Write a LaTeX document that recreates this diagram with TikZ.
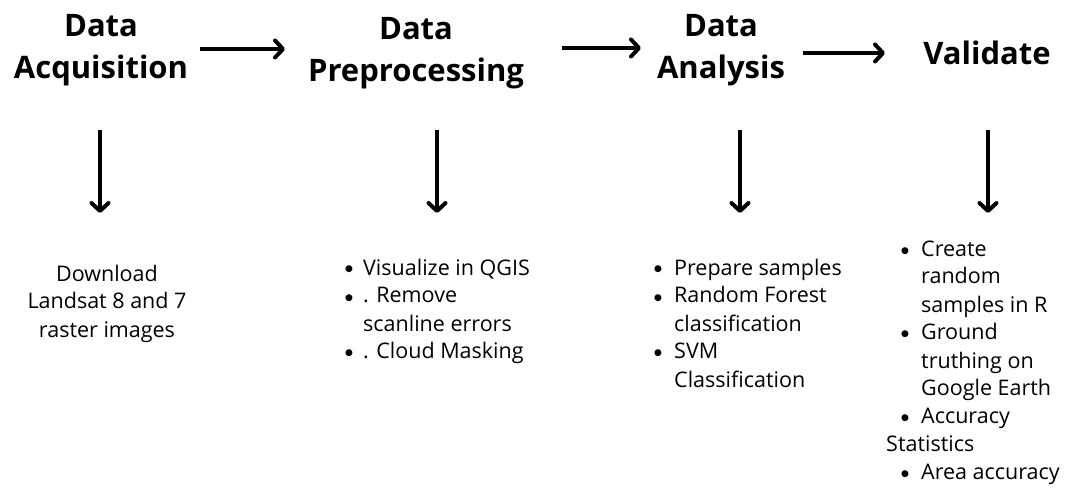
\documentclass[tikz,border=0pt]{standalone}
\usepackage{fontspec}
\setmainfont{Open Sans}
\newfontfamily\symfont{DejaVu Sans}
\usetikzlibrary{arrows.meta}
\newcommand\bitem[1]{\makebox[#1][l]{\raisebox{3pt}{\symfont\fontsize{9}{9}\selectfont ●}}}
\begin{document}
\begin{tikzpicture}[x=1pt,y=-1pt,
  head/.style={font=\bfseries\fontsize{31}{42}\selectfont, inner sep=0pt, anchor=base},
  bodyc/.style={font=\fontsize{21.5}{28}\selectfont, inner sep=0pt, anchor=base},
  bodyl/.style={font=\fontsize{21.5}{28}\selectfont, inner sep=0pt, anchor=base west},
  flow/.style={line width=4pt, -{Straight Barb[round,length=8pt,width=17pt]}}]
\useasboundingbox (0,0) rectangle (1072,500);

% headings
\node[head] (h1) at (101,37) {\begin{tabular}[t]{@{}c@{}}Data\\Acquisition\end{tabular}};
\node[head] (h2) at (416,40) {\begin{tabular}[t]{@{}c@{}}Data\\Preprocessing\end{tabular}};
\node[head] (h3) at (721,37) {\begin{tabular}[t]{@{}c@{}}Data\\Analysis\end{tabular}};
\node[head] (h4) at (987,65) {Validate};

% horizontal arrows
\coordinate (a1s) at (200,49); \coordinate (a1e) at (285,49);
\coordinate (a2s) at (562,48); \coordinate (a2e) at (641,48);
\coordinate (a3s) at (803,53); \coordinate (a3e) at (885,53);
\draw[flow] (a1s) -- (a1e);
\draw[flow] (a2s) -- (a2e);
\draw[flow] (a3s) -- (a3e);

% vertical arrows
\coordinate (v1s) at (100,130); \coordinate (v1e) at (100,213);
\coordinate (v2s) at (437,130); \coordinate (v2e) at (437,213);
\coordinate (v3s) at (740,130); \coordinate (v3e) at (740,213);
\coordinate (v4s) at (988,130); \coordinate (v4e) at (988,213);
\draw[flow] (v1s) -- (v1e);
\draw[flow] (v2s) -- (v2e);
\draw[flow] (v3s) -- (v3e);
\draw[flow] (v4s) -- (v4e);

% text blocks
\node[bodyc] (b1) at (107,281) {\begin{tabular}[t]{@{}c@{}}Download\\Landsat 8 and 7\\raster images\end{tabular}};

\node[bodyl] (b2) at (345,275) {\begin{tabular}[t]{@{}l@{}}
\bitem{18pt}Visualize in QGIS\\
\bitem{18pt}. Remove\\
\hspace*{18pt}scanline errors\\
\bitem{18pt}. Cloud Masking\end{tabular}};

\node[bodyl] (b3) at (654,275) {\begin{tabular}[t]{@{}l@{}}
\bitem{20pt}Prepare samples\\
\bitem{20pt}Random Forest\\
\hspace*{20pt}classification\\
\bitem{20pt}SVM\\
\hspace*{20pt}Classification\end{tabular}};

\node[bodyl] (b4) at (886,256) {\begin{tabular}[t]{@{}l@{}}
\hspace*{15pt}\bitem{20pt}Create\\
\hspace*{35pt}random\\
\hspace*{35pt}samples in R\\
\hspace*{15pt}\bitem{20pt}Ground\\
\hspace*{35pt}truthing on\\
\hspace*{35pt}Google Earth\\
\hspace*{15pt}\bitem{20pt}Accuracy\\
Statistics\\
\hspace*{15pt}\bitem{20pt}Area accuracy\end{tabular}};
\end{tikzpicture}
\end{document}
